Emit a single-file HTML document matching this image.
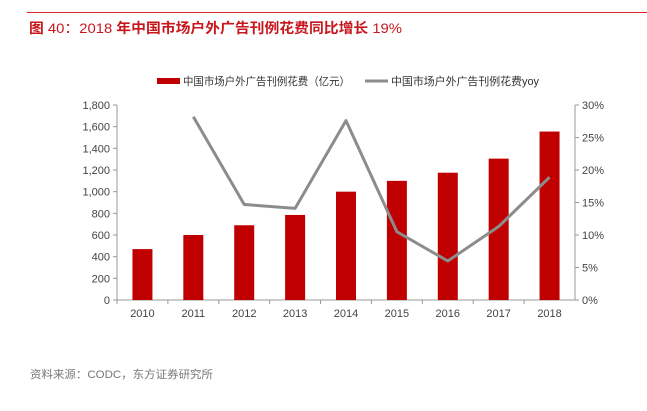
<!DOCTYPE html>
<html><head><meta charset="utf-8"><style>
body{margin:0;width:647px;height:406px;background:#fff;overflow:hidden;font-family:"Liberation Sans","Noto Sans CJK SC",sans-serif;}
</style></head><body>
<svg width="647" height="406" xmlns="http://www.w3.org/2000/svg" font-family="Liberation Sans, Noto Sans CJK SC, sans-serif">
<line x1="27" y1="12.5" x2="647" y2="12.5" stroke="#d9262c" stroke-width="1"/>
<text x="29" y="33" font-size="14" fill="#c8161d" textLength="373" lengthAdjust="spacingAndGlyphs"><tspan font-weight="bold">图</tspan> 40：2018 <tspan font-weight="bold">年中国市场户外广告刊例花费同比增长</tspan> 19%</text>
<g>
<rect x="157" y="78" width="23" height="6" fill="#c00000"/>
<text x="183" y="85" font-size="11" fill="#333" textLength="167" lengthAdjust="spacingAndGlyphs">中国市场户外广告刊例花费（亿元）</text>
<line x1="365" y1="81" x2="388" y2="81" stroke="#8c8c8c" stroke-width="3"/>
<text x="391" y="85" font-size="11" fill="#333" textLength="148" lengthAdjust="spacingAndGlyphs">中国市场户外广告刊例花费yoy</text>
</g>
<g id="chart"></g>
<text x="30" y="378" font-size="11" fill="#777" textLength="183" lengthAdjust="spacingAndGlyphs">资料来源：CODC，东方证券研究所</text>
</svg>
<script>
const categories=["2010","2011","2012","2013","2014","2015","2016","2017","2018"];
const spend=[470,600,690,785,1000,1100,1175,1305,1555];
const yoy=[null,28.2,14.7,14.1,27.6,10.5,6.0,11.3,18.9];
const leftTicks=[0,200,400,600,800,1000,1200,1400,1600,1800];
const rightTicks=[0,5,10,15,20,25,30];
const NS="http://www.w3.org/2000/svg";
const g=document.getElementById('chart');
const X0=117,X1=575,Y0=300,Y1=105;
const band=(X1-X0)/categories.length;
const xc=i=>X0+band*(i+0.5);
const yl=v=>Y0-(v/1800)*(Y0-Y1);
const yr=v=>Y0-(v/30)*(Y0-Y1);
function mk(t,a){const e=document.createElementNS(NS,t);for(const k in a)e.setAttribute(k,a[k]);g.appendChild(e);return e;}
let e;
e=mk('line',{x1:X0,y1:Y1,x2:X0,y2:Y0,stroke:'#999'});


e=mk('line',{x1:X1,y1:Y1,x2:X1,y2:Y0,stroke:'#999'});


e=mk('line',{x1:X0,y1:Y0,x2:X1,y2:Y0,stroke:'#999'});


leftTicks.forEach(v=>{
 e=mk('line',{x1:X0-4,y1:yl(v),x2:X0,y2:yl(v),stroke:'#999'});
 
 
 e=mk('text',{x:X0-7,y:yl(v)+4,'font-size':11,fill:'#444','text-anchor':'end'});
 e.textContent=v.toLocaleString('en-US');
 
 
});
rightTicks.forEach(v=>{
 e=mk('line',{x1:X1,y1:yr(v),x2:X1+4,y2:yr(v),stroke:'#999'});
 
 
 e=mk('text',{x:X1+7,y:yr(v)+4,'font-size':11,fill:'#444'});
 e.textContent=v+'%';
 
 
});
categories.forEach((c,i)=>{
 e=mk('line',{x1:X0+band*i,y1:Y0,x2:X0+band*i,y2:Y0+4,stroke:'#999'});
 
 
 e=mk('rect',{x:xc(i)-10,y:yl(spend[i]),width:20,height:Y0-yl(spend[i]),fill:'#c00000'});
 
 
 e=mk('text',{x:xc(i),y:Y0+17,'font-size':11,fill:'#444','text-anchor':'middle'});
 e.textContent=c;
 
 
});
let pts=[];yoy.forEach((v,i)=>{if(v!==null)pts.push(xc(i)+','+yr(v));});
e=mk('polyline',{points:pts.join(' '),fill:'none',stroke:'#8c8c8c','stroke-width':3,'stroke-linejoin':'round'});


</script>
</body></html>
